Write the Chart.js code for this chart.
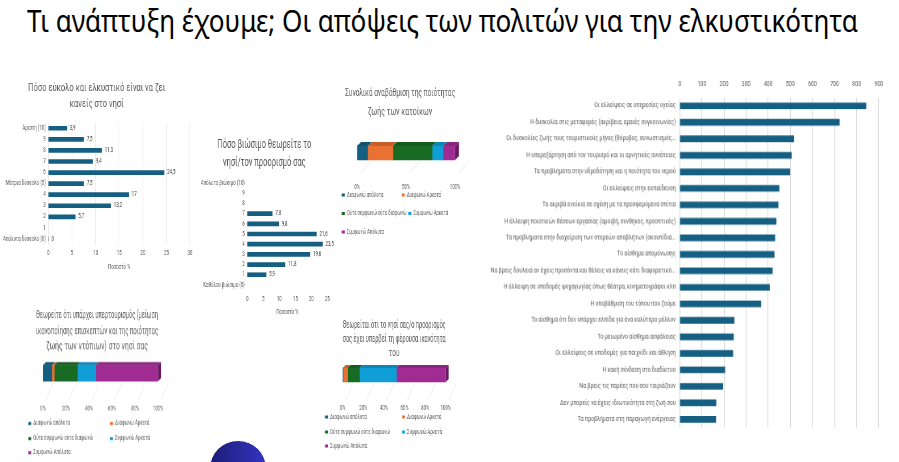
<!DOCTYPE html>
<html>
<head>
<meta charset="utf-8">
<script src="https://cdn.jsdelivr.net/npm/chart.js@4.4.1/dist/chart.umd.min.js"></script>
<style>
  body { margin: 0; width: 899px; height: 462px; background: #fff; overflow: hidden; position: relative; font-family: 'Noto Sans', sans-serif; }
  .box { position: absolute; transform-origin: 0 0; }
  #title { position: absolute; left: 27px; top: 6px; font-size: 30px; line-height: 30px; white-space: nowrap; transform-origin: 0 0; color: #000; }
  #blob { position: absolute; left: 209px; top: 440px; width: 56px; height: 56px; border-radius: 50%; background: linear-gradient(90deg, #1c1c78, #3434c0); border: 1px solid #fff; }
</style>
</head>
<body>
<div id="title">Τι ανάπτυξη έχουμε; Οι απόψεις των πολιτών για την ελκυστικότητα</div>

<div class="box" id="easeBox"><canvas id="easeChart"></canvas></div>
<div class="box" id="sustBox"><canvas id="sustChart"></canvas></div>
<div class="box" id="qualityBox"><canvas id="qualityChart"></canvas></div>
<div class="box" id="overBox"><canvas id="overChart"></canvas></div>
<div class="box" id="capBox"><canvas id="capChart"></canvas></div>
<div class="box" id="problemBox"><canvas id="problemChart"></canvas></div>
<div id="blob"></div>

<script>
// ---- data ----
const easeCats = ['Άριστη (10)', '9', '8', '7', '6', 'Μέτρια δύσκολο (5)', '4', '3', '2', '1', 'Απόλυτα δύσκολο (0)'];
const easeVals = [3.9, 7.5, 11.3, 9.4, 24.5, 7.5, 17, 13.2, 5.7, null, 0];

const sustCats = ['Απόλυτα βιώσιμο (10)', '9', '8', '7', '6', '5', '4', '3', '2', '1', 'Καθόλου βιώσιμο (0)'];
const sustVals = [null, null, null, 7.8, 9.8, 21.6, 23.5, 19.6, 11.8, 5.9, null];

const agreeLabels = ['Διαφωνώ απόλυτα', 'Διαφωνώ Αρκετά', 'Ούτε συμφωνώ ούτε διαφωνώ', 'Συμφωνώ Αρκετά', 'Συμφωνώ Απόλυτα'];
const qualityVals = [11, 25.6, 40.1, 11.1, 12.2];
const overtourismVals = [7.8, 2.0, 20.2, 15.8, 54.2];
const capacityVals = [0.5, 4.3, 11.5, 35.9, 47.8];

const problemLabels = [
  'Οι ελλείψεις σε υπηρεσίες υγείας',
  'Η δυσκολία στις μεταφορές (ακρίβεια, αραιές συγκοινωνίες)',
  'Οι δυσκολίες ζωής τους τουριστικούς μήνες (θόρυβος, συνωστισμός...',
  'Η υπερεξάρτηση από τον τουρισμό και οι αρνητικές συνέπειες',
  'Τα προβλήματα στην υδροδότηση και η ποιότητα του νερού',
  'Οι ελλείψεις στην εκπαίδευση',
  'Τα ακριβά ενοίκια σε σχέση με τα προσφερόμενα σπίτια',
  'Η έλλειψη ποιοτικών θέσεων εργασίας (αμοιβή, συνθήκες, προοπτικές)',
  'Τα προβλήματα στην διαχείριση των στερεών αποβλήτων (σκουπίδια...',
  'Το αίσθημα απομόνωσης',
  'Να βρεις δουλειά αν έχεις προσόντα και θέλεις να κάνεις κάτι διαφορετικό...',
  'Η έλλειψη σε υποδομές ψυχαγωγίας όπως θέατρα, κινηματογράφοι κλπ',
  'Η υποβάθμιση του τόπου που ζούμε',
  'Το αίσθημα ότι δεν υπάρχει ελπίδα για ένα καλύτερο μέλλον',
  'Το μειωμένο αίσθημα ασφάλειας',
  'Οι ελλείψεις σε υποδομές για παιχνίδι και άθληση',
  'Η κακή σύνδεση στο διαδίκτυο',
  'Να βρεις τις παρέες που σου ταιριάζουν',
  'Δεν μπορείς να έχεις ιδιωτικότητα στη ζωή σου',
  'Τα προβλήματα στη παραγωγή ενέργειας'
];
const problemVals = [842, 722, 516, 505, 498, 449, 445, 436, 430, 427, 419, 406, 367, 246, 243, 240, 204, 195, 164, 163];

// ---- style ----
const COLORS = ['#156082', '#e97132', '#196b24', '#0f9ed5', '#a02b93'];
const BAR = '#156082';
const TXT = '#595959';
const FONT = "Roboto, 'Liberation Sans', sans-serif";

Chart.defaults.font.family = FONT;
Chart.defaults.color = TXT;
Chart.defaults.animation = false;

// fit the slide title to its width
const t = document.getElementById('title');
t.style.transform = 'scaleX(' + (831 / t.getBoundingClientRect().width) + ')';

// text in the charts is a narrow face: canvases are drawn wide and squeezed by s
const mctx = document.createElement('canvas').getContext('2d');
function textW(text, size) {
  mctx.font = size + 'px ' + FONT;
  return mctx.measureText(text).width;
}
function squeeze(text, pageW, size) { return pageW / textW(text, size); }
function fitSize(text, pageW, s) { return pageW / s / textW(text, 100) * 100; }

function place(id, L, T, W, H, s) {
  const el = document.getElementById(id);
  el.style.left = L + 'px';
  el.style.top = T + 'px';
  el.style.width = (W / s) + 'px';
  el.style.height = H + 'px';
  el.style.transform = 'scaleX(' + s + ')';
}

function shade(hex, f) {
  const n = parseInt(hex.slice(1), 16);
  const r = Math.round(((n >> 16) & 255) * f), g = Math.round(((n >> 8) & 255) * f), b = Math.round((n & 255) * f);
  return `rgb(${r}, ${g}, ${b})`;
}

// numbers at the end of the bars, comma decimals
const valueLabels = {
  id: 'valueLabels',
  afterDatasetsDraw(chart, args, opts) {
    const ctx = chart.ctx;
    const meta = chart.getDatasetMeta(0);
    const data = chart.data.datasets[0].data;
    ctx.save();
    ctx.font = opts.size + 'px ' + FONT;
    ctx.fillStyle = '#404040';
    ctx.textBaseline = 'middle';
    meta.data.forEach((bar, i) => {
      if (data[i] === null) return;
      ctx.fillText(String(data[i]).replace('.', ','), bar.x + opts.gap, bar.y);
    });
    ctx.restore();
  }
};

// fake 3d look for the stacked bars
const bar3d = {
  id: 'bar3d',
  beforeDatasetsDraw(chart, args, opts) {
    const ctx = chart.ctx, xs = chart.scales.x;
    const bar = chart.getDatasetMeta(0).data[0];
    const bottom = bar.y + bar.height / 2;
    ctx.save();
    ctx.strokeStyle = '#e3e3e3';
    ctx.lineWidth = 0.8;
    xs.ticks.forEach(tk => {
      const x = xs.getPixelForValue(tk.value);
      ctx.beginPath();
      ctx.moveTo(x + opts.dx, opts.floor);
      ctx.lineTo(x + 3.5 * opts.dx, bottom + 1);
      ctx.stroke();
    });
    ctx.restore();
  },
  afterDatasetsDraw(chart, args, opts) {
    const ctx = chart.ctx, dx = opts.dx, dy = opts.dy;
    let last = -1;
    chart.data.datasets.forEach((ds, i) => { if (ds.data[0] > 0) last = i; });
    ctx.save();
    chart.data.datasets.forEach((ds, i) => {
      const bar = chart.getDatasetMeta(i).data[0];
      const top = bar.y - bar.height / 2, bottom = bar.y + bar.height / 2;
      const x0 = bar.base, x1 = bar.x;
      if (x1 - x0 <= 0) return;
      ctx.fillStyle = shade(ds.backgroundColor, 0.85);
      ctx.beginPath();
      ctx.moveTo(x0, top); ctx.lineTo(x0 + dx, top - dy); ctx.lineTo(x1 + dx, top - dy); ctx.lineTo(x1, top);
      ctx.closePath(); ctx.fill();
      if (i === last) {
        ctx.fillStyle = shade(ds.backgroundColor, 0.65);
        ctx.beginPath();
        ctx.moveTo(x1, top); ctx.lineTo(x1 + dx, top - dy); ctx.lineTo(x1 + dx, bottom - dy); ctx.lineTo(x1, bottom);
        ctx.closePath(); ctx.fill();
      }
    });
    ctx.restore();
  }
};

// excel-like legend in columns
const gridLegend = {
  id: 'gridLegend',
  afterDraw(chart, args, opts) {
    const ctx = chart.ctx;
    ctx.save();
    ctx.font = opts.size + 'px ' + FONT;
    ctx.textBaseline = 'middle';
    chart.data.datasets.forEach((ds, i) => {
      const p = opts.pos[i];
      const x = (p[0] - opts.L) / opts.s, y = p[1] - opts.T;
      ctx.fillStyle = ds.backgroundColor;
      ctx.fillRect(x, y - 1.5, 3 / opts.s, 3);
      ctx.fillStyle = TXT;
      ctx.fillText(ds.label, x + 5 / opts.s, y);
    });
    ctx.restore();
  }
};

function scoreChart(id, boxId, cats, vals, o) {
  const s = squeeze(o.title[0], o.titleW, o.tsize);
  const fs = fitSize(o.longTick, o.longTickW, s);
  place(boxId, o.L, o.T, o.W, o.H, s);
  return new Chart(document.getElementById(id), {
    type: 'bar',
    data: { labels: cats, datasets: [{ data: vals, backgroundColor: BAR, barThickness: 4 }] },
    options: {
      indexAxis: 'y',
      responsive: true,
      maintainAspectRatio: false,
      layout: { padding: { left: o.padL / s, right: o.padR / s, top: 0, bottom: 0 } },
      plugins: {
        legend: { display: false },
        tooltip: { enabled: false },
        title: { display: true, text: o.title, color: TXT, font: { size: o.tsize, weight: 'normal', lineHeight: o.tlh }, padding: { top: 0, bottom: o.tpb } },
        valueLabels: { size: fs, gap: 3 / s }
      },
      scales: {
        x: {
          min: 0, max: o.max,
          ticks: { stepSize: 5, padding: o.tp, font: { size: fs } },
          grid: { display: o.grid, color: '#ececec', drawTicks: false },
          border: { display: false },
          title: { display: true, text: 'Ποσοστό %', font: { size: fs }, padding: { top: 0, bottom: 0.7 } },
          afterFit: sc => { sc.height = o.xh; }
        },
        y: {
          ticks: { padding: 2.5 / s, font: { size: fs }, autoSkip: false },
          grid: { display: false, drawTicks: false },
          border: { display: false },
          afterFit: sc => { sc.width = o.yw / s; }
        }
      }
    },
    plugins: [valueLabels]
  });
}

function stackedChart(id, boxId, values, o) {
  const s = squeeze(o.title[0], o.titleW, o.tsize);
  const fs = fitSize(agreeLabels[2], 60, s);
  place(boxId, o.L, o.T, o.W, o.H, s);
  return new Chart(document.getElementById(id), {
    type: 'bar',
    data: {
      labels: [''],
      datasets: agreeLabels.map((lab, i) => ({ label: lab, data: [values[i]], backgroundColor: COLORS[i], barThickness: o.thick }))
    },
    options: {
      indexAxis: 'y',
      responsive: true,
      maintainAspectRatio: false,
      layout: { padding: { left: o.padL / s, right: o.padR / s, top: 0, bottom: o.padB } },
      plugins: {
        legend: { display: false },
        tooltip: { enabled: false },
        title: { display: true, text: o.title, color: TXT, font: { size: o.tsize, weight: 'normal', lineHeight: o.tlh }, padding: { top: 0, bottom: o.tpb } },
        bar3d: { dx: o.depth / s, dy: o.depth, floor: o.floor },
        gridLegend: { pos: o.legend, size: fs, s: s, L: o.L, T: o.T }
      },
      scales: {
        x: {
          stacked: true, min: 0, max: 100,
          ticks: { stepSize: o.step, padding: o.tp, font: { size: fs }, callback: v => v + '%' },
          grid: { display: false, drawTicks: false },
          border: { display: false },
          afterFit: sc => { sc.height = o.xh; }
        },
        y: {
          stacked: true,
          display: o.yw > 0,
          ticks: { display: false },
          grid: { display: false, drawTicks: false },
          border: { display: false },
          afterFit: sc => { sc.width = o.yw / s; }
        }
      }
    },
    plugins: [bar3d, gridLegend]
  });
}

scoreChart('easeChart', 'easeBox', easeCats, easeVals, {
  L: 0, T: 80, W: 200, H: 192,
  title: ['Πόσο εύκολο και ελκυστικό είναι να ζει', 'κανείς στο νησί'], titleW: 137,
  tsize: 11, tlh: 1.455, tpb: 10.75,
  longTick: 'Απόλυτα δύσκολο (0)', longTickW: 43,
  padL: 3.3, padR: 10, max: 30, yw: 45, xh: 27.5, tp: 5, grid: true
});

scoreChart('sustChart', 'sustBox', sustCats, sustVals, {
  L: 190, T: 136, W: 150, H: 181.3,
  title: ['Πόσο βιώσιμο θεωρείτε το', 'νησί/τον προορισμό σας'], titleW: 94,
  tsize: 12, tlh: 1.5, tpb: 6,
  longTick: 'Απόλυτα βιώσιμο (10)', longTickW: 44,
  padL: 11.3, padR: 12.7, max: 25, yw: 46, xh: 27.3, tp: 4.7, grid: false
});

stackedChart('qualityChart', 'qualityBox', qualityVals, {
  L: 330, T: 84, W: 140, H: 156,
  title: ['Συνολικά αναβάθμιση της ποιότητας', 'ζωής των κατοίκων'], titleW: 117,
  tsize: 10.5, tlh: 1.78, tpb: 11.6,
  padL: 15, padR: 15, padB: 47,
  yw: 12, xh: 20, tp: 10.25, step: 50, thick: 14, depth: 4, floor: 89,
  legend: [[341.7, 195], [401.7, 195], [341.7, 213.5], [408.3, 213.5], [341.7, 232]]
});

stackedChart('overChart', 'overBox', overtourismVals, {
  L: 0, T: 308.25, W: 200, H: 153.75,
  title: ['Θεωρείτε ότι υπάρχει υπερτουρισμός (μείωση', 'ικανοποίησης επισκεπτών και της ποιότητας', 'ζωής των ντόπιων) στο νησί σας'], titleW: 146,
  tsize: 10.5, tlh: 1.476, tpb: 8.25,
  padL: 36, padR: 42, padB: 52,
  yw: 7, xh: 27, tp: 21.25, step: 20, thick: 16, depth: 3, floor: 91,
  legend: [[28.3, 423], [110, 423], [28.3, 438], [110, 438], [28.3, 452]]
});

stackedChart('capChart', 'capBox', capacityVals, {
  L: 300, T: 318, W: 170, H: 138,
  title: ['Θεωρείται ότι το νησί σας/ο προορισμός', 'σας έχει υπερβεί τη φέρουσα ικανότητα', 'του'], titleW: 124,
  tsize: 10, tlh: 1.4, tpb: 5,
  padL: 42.7, padR: 24.3, padB: 45,
  yw: 0, xh: 26, tp: 19.25, step: 20, thick: 14, depth: 3, floor: 82,
  legend: [[325, 417], [402, 417], [325, 432], [402, 432], [325, 446]]
});

// right-hand ranking chart
const ps = squeeze(problemLabels[2], 169, 6.5);
place('problemBox', 440, 75, 450, 360.5, ps);
new Chart(document.getElementById('problemChart'), {
  type: 'bar',
  data: { labels: problemLabels, datasets: [{ data: problemVals, backgroundColor: BAR, barThickness: 6 }] },
  options: {
    indexAxis: 'y',
    responsive: true,
    maintainAspectRatio: false,
    layout: { padding: { left: 0, right: 12 / ps, top: 0, bottom: 0 } },
    plugins: { legend: { display: false }, tooltip: { enabled: false } },
    scales: {
      x: {
        position: 'top',
        min: 0, max: 900,
        ticks: { stepSize: 100, padding: 9.2, font: { size: 6.5 } },
        grid: { color: '#d9d9d9', drawTicks: false },
        border: { display: false },
        afterFit: sc => { sc.height = 22.5; }
      },
      y: {
        ticks: { padding: 4 / ps, font: { size: 6.5 }, autoSkip: false },
        grid: { display: false, drawTicks: false },
        border: { display: false },
        afterFit: sc => { sc.width = 239.3 / ps; }
      }
    }
  }
});
</script>
</body>
</html>
